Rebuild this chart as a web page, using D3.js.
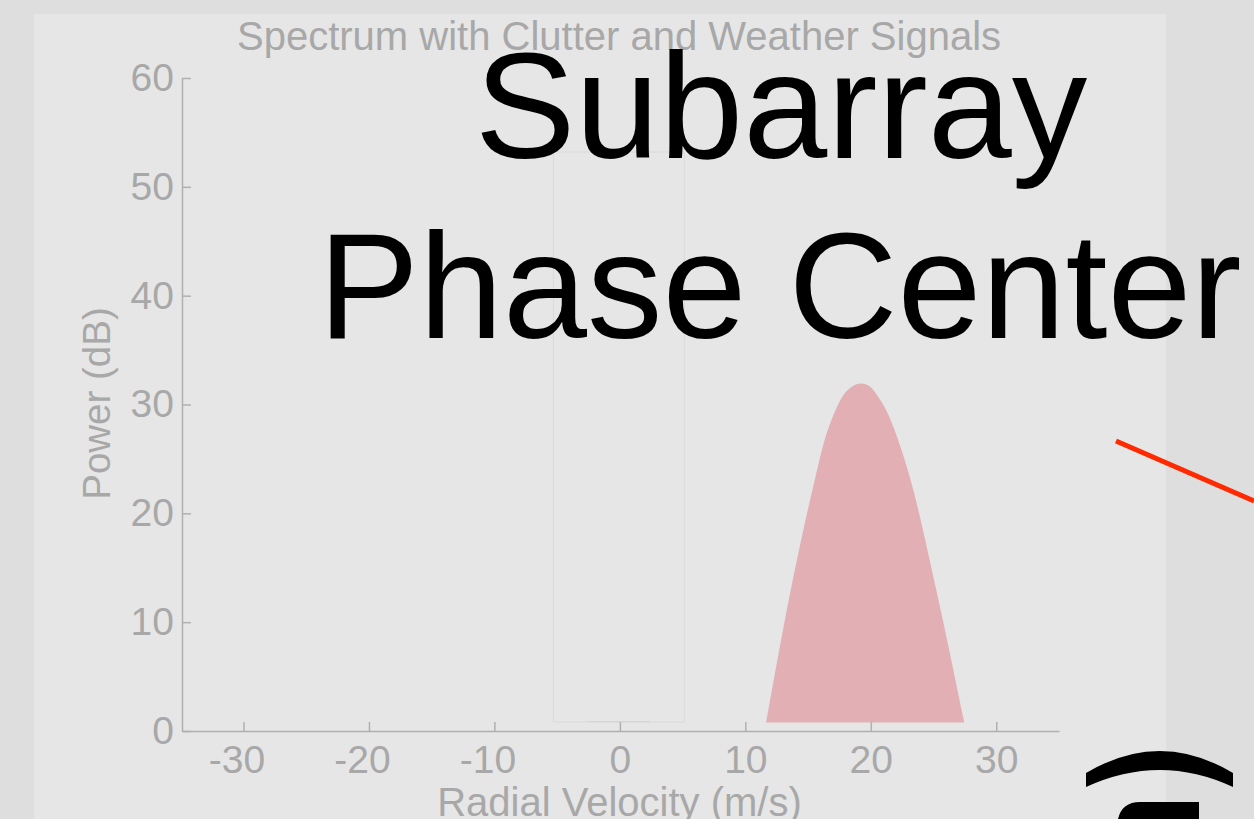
<!DOCTYPE html>
<html>
<head>
<meta charset="utf-8">
<script src="https://cdn.jsdelivr.net/npm/d3@7"></script>
<style>
  html, body { margin: 0; padding: 0; background: #dedede; overflow: hidden; }
  svg { display: block; font-family: "Liberation Sans", Arial, sans-serif; }
  .axis path, .axis line { stroke: #b0b0b0; stroke-width: 1.5; }
  .axis text { fill: #a8a8a8; font-size: 39px; font-family: "Liberation Sans", Arial, sans-serif; }
  .axisText { fill: #a8a8a8; text-anchor: middle; }
  .overlayText { fill: #000; font-size: 151px; text-anchor: middle; }
</style>
</head>
<body>
<div id="chart"></div>
<script>
// Chart values
var velocityTicks = [-30, -20, -10, 0, 10, 20, 30];
var velocityLabels = ['-30', '-20', '-10', '0', '10', '20', '30'];
var powerTicks = [0, 10, 20, 30, 40, 50, 60];

var weatherVelocity = [11.65, 13.62, 15.56, 16.36, 17.02, 17.82, 18.49, 19.23, 19.95, 20.49, 21.41, 22.13, 23.14, 25.22, 27.45];
var weatherPower = [0.77, 12.96, 23.2, 26.9, 29.04, 30.88, 31.64, 31.92, 31.64, 30.88, 29.04, 26.9, 23.2, 12.96, 0.77];

var clutterVelocity = [-5.3, -5.3, 5.14, 5.14, -5.3];
var clutterPower = [0.83, 53.2, 53.2, 0.83, 0.83];
var clutterBaseVelocity = [-2.6, 2.4];
var clutterBasePower = [0.85, 0.85];

var overlayLines = ['Subarray', 'Phase Center'];

// Set up chart svg area
var svgWidth = 1254;
var svgHeight = 819;

var margin = {
  top: 78,
  right: 195,
  bottom: 88,
  left: 182
};

var width = svgWidth - margin.left - margin.right;
var height = svgHeight - margin.top - margin.bottom;

var svg = d3.select('#chart')
  .append('svg')
  .attr('width', svgWidth)
  .attr('height', svgHeight);

// Lighter panel behind the chart
svg.append('rect')
  .attr('x', 34)
  .attr('y', 14)
  .attr('width', 1132)
  .attr('height', svgHeight - 14)
  .attr('fill', '#e6e6e6');

var chartGroup = svg.append('g')
  .attr('transform', `translate(${margin.left}, ${margin.top})`);

var xLinearScale = d3.scaleLinear()
  .domain([-34.9, 35])
  .range([0, width]);

var yLinearScale = d3.scaleLinear()
  .domain([0, 60])
  .range([height, 0]);

// Clutter signal, only an outline is left of it
var clutterLine = d3.line()
  .x(d => xLinearScale(d[0]))
  .y(d => yLinearScale(d[1]));

chartGroup.append('path')
  .attr('d', clutterLine(d3.zip(clutterVelocity, clutterPower)))
  .attr('fill', 'none')
  .attr('stroke', '#dadada')
  .attr('stroke-width', 1);

chartGroup.append('path')
  .attr('d', clutterLine(d3.zip(clutterBaseVelocity, clutterBasePower)))
  .attr('fill', 'none')
  .attr('stroke', '#d2d2d2')
  .attr('stroke-width', 1);

// Weather signal
var weatherArea = d3.area()
  .x(d => xLinearScale(d[0]))
  .y0(yLinearScale(weatherPower[0]))
  .y1(d => yLinearScale(d[1]))
  .curve(d3.curveMonotoneX);

chartGroup.append('path')
  .attr('d', weatherArea(d3.zip(weatherVelocity, weatherPower)))
  .attr('fill', '#e2b0b4');

// Axes
var bottomAxis = d3.axisBottom(xLinearScale)
  .tickValues(velocityTicks)
  .tickFormat((d, i) => velocityLabels[i])
  .tickSizeInner(-9)
  .tickSizeOuter(0)
  .tickPadding(14);

var leftAxis = d3.axisLeft(yLinearScale)
  .tickValues(powerTicks)
  .tickSizeInner(-9)
  .tickSizeOuter(0)
  .tickPadding(8);

var xAxisGroup = chartGroup.append('g')
  .attr('class', 'axis')
  .attr('transform', `translate(0, ${height})`)
  .call(bottomAxis);

// Negative labels sit a little to the left of their ticks
xAxisGroup.selectAll('.tick text')
  .attr('dx', d => d < 0 ? -7 : 0);

chartGroup.append('g')
  .attr('class', 'axis')
  .call(leftAxis);

// Axis titles
svg.append('text')
  .attr('class', 'axisText')
  .attr('x', 619)
  .attr('y', 50)
  .attr('font-size', 40)
  .text('Spectrum with Clutter and Weather Signals');

svg.append('text')
  .attr('class', 'axisText')
  .attr('x', 619.5)
  .attr('y', 816)
  .attr('font-size', 40)
  .text('Radial Velocity (m/s)');

svg.append('text')
  .attr('class', 'axisText')
  .attr('transform', 'translate(110, 403.5) rotate(-90)')
  .attr('font-size', 38.5)
  .text('Power (dB)');

// Diagram drawn over the chart
svg.selectAll('.overlayText')
  .data(overlayLines)
  .enter()
  .append('text')
  .attr('class', 'overlayText')
  .attr('x', (d, i) => i === 0 ? 781 : 780)
  .attr('y', (d, i) => 158 + i * 180)
  .text(d => d);

svg.append('path')
  .attr('d', 'M1116,441L1254,501')
  .attr('stroke', '#ff2a00')
  .attr('stroke-width', 5)
  .attr('fill', 'none');

svg.append('path')
  .attr('d', 'M1086,773Q1160,729 1233,773L1233,787Q1160,753 1086,787Z')
  .attr('fill', '#000');

svg.append('path')
  .attr('d', 'M1118,819Q1122,802 1140,802L1199,802L1199,819Z')
  .attr('fill', '#000');
</script>
</body>
</html>
